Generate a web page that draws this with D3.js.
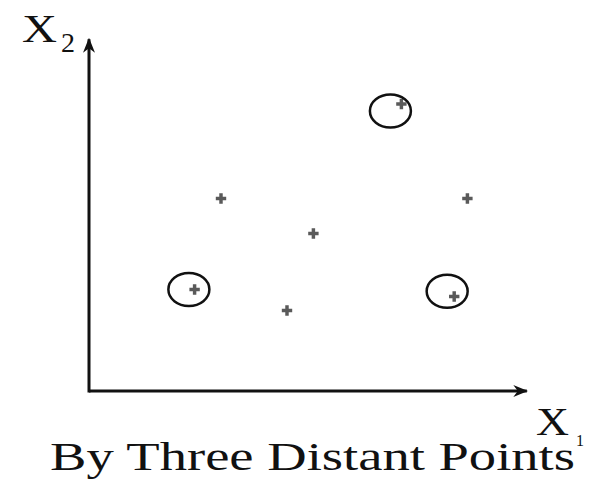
<!DOCTYPE html>
<html>
<head>
<meta charset="utf-8">
<script src="https://cdn.jsdelivr.net/npm/d3@7"></script>
<style>
  body { margin: 0; background: #fff; }
</style>
</head>
<body>
<div class="chart"></div>
<script>
// points in data units (0..100 on both axes)
var pointX = [71, 30, 86, 51, 24, 83, 45],
  pointY = [82, 55, 55, 45, 29, 27, 23];
// the three distant points that get a hand-drawn circle
var circledX = [68.5, 22.7, 81.4],
  circledY = [80, 29, 28.5];
var title = "By Three Distant Points";

document.addEventListener("DOMContentLoaded", draw)

function draw() {
  var width = 590,
    height = 479,
    serif = "'Liberation Serif', 'Times New Roman', Times, 'DejaVu Serif', serif";

  var svg = d3.select(".chart").append("svg")
    .attr("width", width)
    .attr("height", height)

  var x = d3.scaleLinear().domain([0, 100]).range([89, 529]),
    y = d3.scaleLinear().domain([0, 100]).range([391, 41]);

  var defs = svg.append("defs")
  defs.append("marker")
    .attr("id", "arrow")
    .attr("viewBox", "0 0 10 10")
    .attr("refX", 9).attr("refY", 5)
    .attr("markerWidth", 5).attr("markerHeight", 5)
    .attr("markerUnits", "strokeWidth")
    .attr("orient", "auto")
    .append("path")
    .attr("d", "M0,1 L10,5 L0,9 L3,5 Z")
    .attr("fill", "#111")

  // axes
  svg.append("line")
    .attr("x1", x(0)).attr("y1", y(0))
    .attr("x2", x(99.5)).attr("y2", y(0))
    .attr("stroke", "#111").attr("stroke-width", 3)
    .attr("marker-end", "url(#arrow)")
  svg.append("line")
    .attr("x1", x(0)).attr("y1", y(0) + 1.5)
    .attr("x2", x(0)).attr("y2", y(100.5))
    .attr("stroke", "#111").attr("stroke-width", 3)
    .attr("marker-end", "url(#arrow)")

  // axis labels
  function label(tx, ty, big, bigLen, sub, subSize, sx, sy) {
    svg.append("text").attr("x", tx).attr("y", ty)
      .attr("font-family", serif).attr("font-size", big).attr("fill", "#111")
      .attr("textLength", bigLen).attr("lengthAdjust", "spacingAndGlyphs")
      .text("X")
    svg.append("text").attr("x", sx).attr("y", sy)
      .attr("font-family", serif).attr("font-size", subSize).attr("fill", "#111")
      .text(sub)
  }
  label(22, 42, 41, 35, "2", 28, 61, 52)
  label(536, 435, 41, 33, "1", 16, 576, 446)

  svg.append("text")
    .attr("x", 50).attr("y", 470)
    .attr("font-family", serif)
    .attr("font-size", 41)
    .attr("fill", "#111")
    .attr("textLength", 525)
    .attr("lengthAdjust", "spacingAndGlyphs")
    .text(title)

  // points as small gray plus marks
  var pts = d3.range(pointX.length)
  svg.append("g").selectAll("path")
    .data(pts)
    .enter().append("path")
    .attr("transform", i => `translate(${x(pointX[i])},${y(pointY[i])})`)
    .attr("d", d3.symbol(d3.symbolCross, 60))
    .attr("fill", "#5a5a5a")

  // circles round the distant points
  svg.append("g").selectAll("ellipse")
    .data(d3.range(circledX.length))
    .enter().append("ellipse")
    .attr("cx", i => x(circledX[i]))
    .attr("cy", i => y(circledY[i]))
    .attr("rx", 20.5)
    .attr("ry", 16.5)
    .attr("fill", "none")
    .attr("stroke", "#111")
    .attr("stroke-width", 2.5)
}
</script>
</body>
</html>
